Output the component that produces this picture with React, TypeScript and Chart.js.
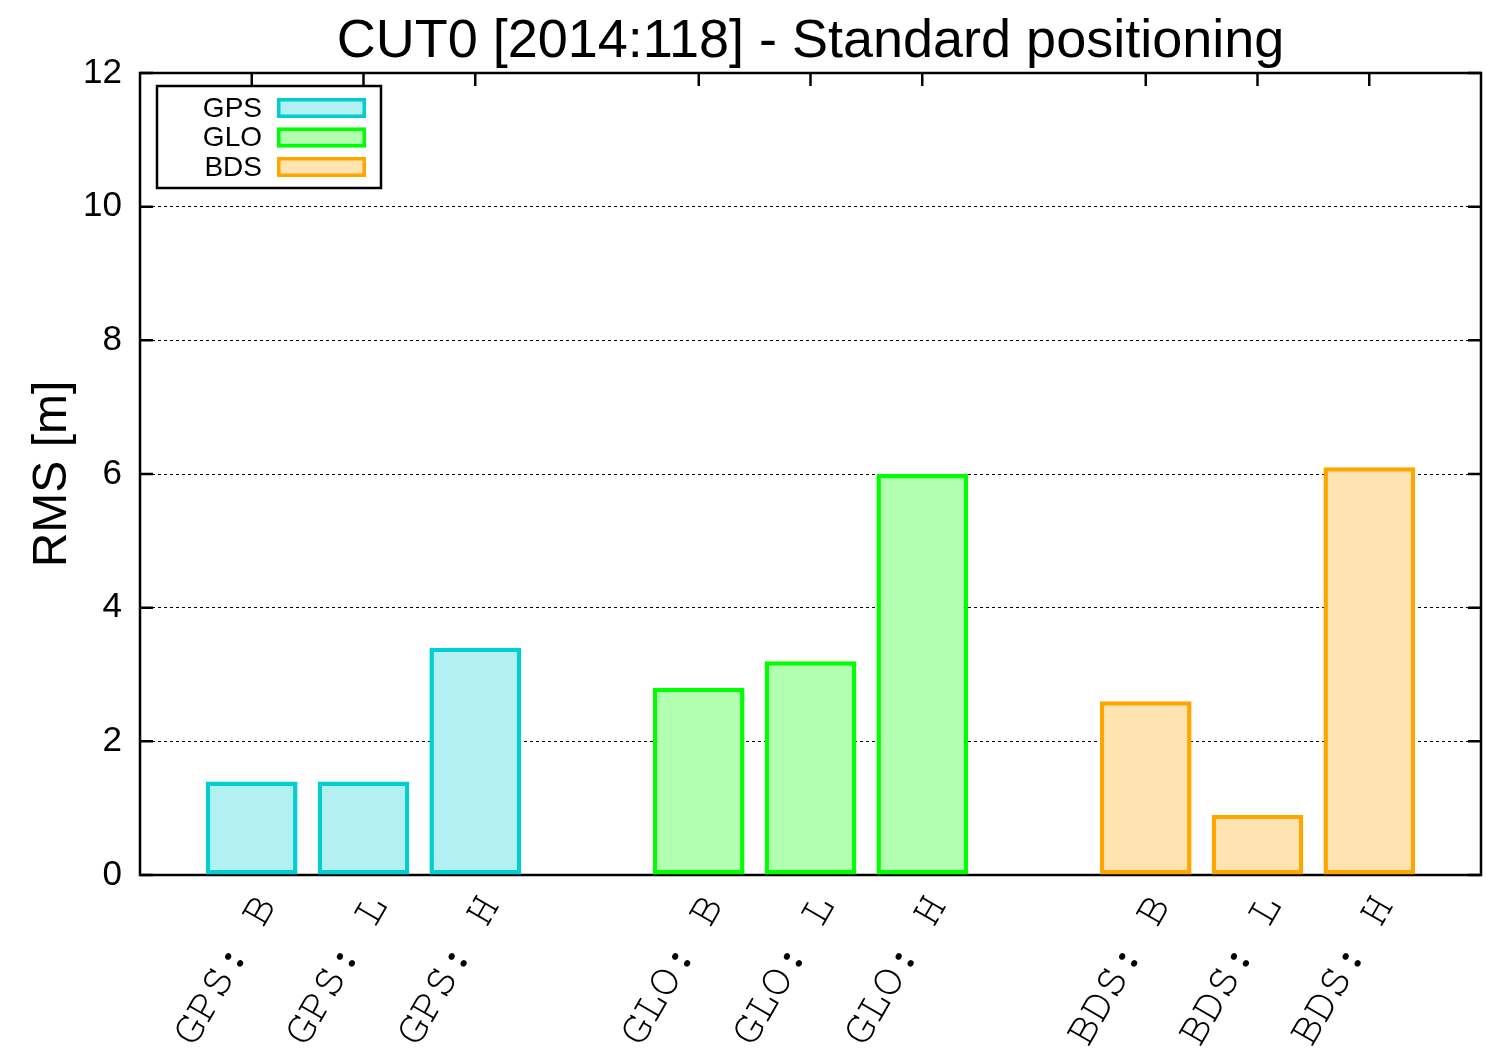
import { useEffect, useRef } from 'react';
import { Chart, registerables } from 'chart.js';

Chart.register(...registerables);

const TITLE = 'CUT0 [2014:118] - Standard positioning';
const Y_TITLE = 'RMS [m]';

// category slots (empty strings are the gaps / plot margins)
const CATEGORIES = ['', 'GPS: B', 'GPS: L', 'GPS: H', '', 'GLO: B', 'GLO: L', 'GLO: H', '', 'BDS: B', 'BDS: L', 'BDS: H', ''];

const SYSTEMS = ['GPS', 'GLO', 'BDS'];
const GPS_VALUES = [1.4, 1.4, 3.4];
const GLO_VALUES = [2.8, 3.2, 6.0];
const BDS_VALUES = [2.6, 0.9, 6.1];

const Y_MIN = 0;
const Y_MAX = 12;
const Y_STEP = 2;

const BORDER_COLORS = ['#00CED1', '#00FF00', '#FFA500'];
const FILL_COLORS = ['#B2F0F1', '#B2FFB2', '#FFE4B2'];

const SANS = '"Liberation Sans", Arial, sans-serif';
const MONO = '"Nimbus Mono PS", "Nimbus Mono L", FreeMono, "Courier New", Courier, "Liberation Mono", monospace';

function placeValues(system: string, values: number[]): (number | null)[] {
  let k = 0;
  return CATEGORIES.map((c) => (c.startsWith(system + ':') ? values[k++] : null));
}

const framePlugin = {
  id: 'gnuplotFrame',
  beforeDatasetsDraw(chart: any) {
    const { ctx, chartArea } = chart;
    const { left, right, top, bottom } = chartArea;
    const x = chart.scales.x;
    const y = chart.scales.y;
    const tick = 13;
    ctx.save();
    ctx.strokeStyle = '#000';
    ctx.lineWidth = 2.5;
    ctx.beginPath();
    y.ticks.forEach((t: any) => {
      const py = y.getPixelForValue(t.value);
      ctx.moveTo(left, py);
      ctx.lineTo(left + tick, py);
      ctx.moveTo(right, py);
      ctx.lineTo(right - tick, py);
    });
    CATEGORIES.forEach((c, i) => {
      if (!c) return;
      const px = x.getPixelForValue(i);
      ctx.moveTo(px, top);
      ctx.lineTo(px, top + tick);
      ctx.moveTo(px, bottom);
      ctx.lineTo(px, bottom - tick);
    });
    ctx.stroke();
    ctx.strokeRect(left, top, right - left, bottom - top);
    ctx.restore();
  },
};

const titlePlugin = {
  id: 'gnuplotTitle',
  afterDraw(chart: any) {
    const { ctx, chartArea } = chart;
    ctx.save();
    ctx.fillStyle = '#000';
    ctx.font = `54px ${SANS}`;
    ctx.textAlign = 'center';
    ctx.textBaseline = 'alphabetic';
    ctx.fillText(TITLE, (chartArea.left + chartArea.right) / 2, chartArea.top - 16);
    ctx.restore();
  },
};

const legendPlugin = {
  id: 'gnuplotLegend',
  afterDraw(chart: any) {
    const { ctx, chartArea } = chart;
    const bx = chartArea.left + 17;
    const by = chartArea.top + 13;
    const bw = 224;
    const bh = 102;
    ctx.save();
    ctx.fillStyle = '#fff';
    ctx.fillRect(bx, by, bw, bh);
    ctx.strokeStyle = '#000';
    ctx.lineWidth = 2.5;
    ctx.strokeRect(bx, by, bw, bh);
    ctx.font = `28px ${SANS}`;
    ctx.textAlign = 'right';
    ctx.textBaseline = 'middle';
    chart.data.datasets.forEach((ds: any, i: number) => {
      const cy = by + 22 + i * 29.5;
      ctx.fillStyle = '#000';
      ctx.fillText(ds.label, bx + 105, cy + 1);
      ctx.fillStyle = ds.backgroundColor;
      ctx.fillRect(bx + 120, cy - 10, 89, 20);
      ctx.strokeStyle = ds.borderColor;
      ctx.lineWidth = 3.5;
      ctx.strokeRect(bx + 121.75, cy - 8.25, 85.5, 16.5);
    });
    ctx.restore();
  },
};

export default function App() {
  const canvasRef = useRef<HTMLCanvasElement | null>(null);

  useEffect(() => {
    const canvas = canvasRef.current;
    if (!canvas) return;
    const seriesValues = [GPS_VALUES, GLO_VALUES, BDS_VALUES];
    const chart = new Chart(canvas, {
      type: 'bar',
      data: {
        labels: CATEGORIES,
        datasets: SYSTEMS.map((s, i) => ({
          label: s,
          data: placeValues(s, seriesValues[i]),
          backgroundColor: FILL_COLORS[i],
          borderColor: BORDER_COLORS[i],
          borderWidth: 4.5,
          borderSkipped: false,
          categoryPercentage: 0.82,
          barPercentage: 1,
          skipNull: true,
        })),
      },
      options: {
        responsive: false,
        devicePixelRatio: 1,
        animation: false,
        layout: { padding: { top: 73, right: 19, left: 0, bottom: 0 } },
        plugins: {
          legend: { display: false },
          title: { display: false },
          tooltip: { enabled: false },
        },
        scales: {
          x: {
            type: 'category',
            offset: false,
            grid: { display: false, drawTicks: false },
            border: { display: false },
            ticks: {
              autoSkip: false,
              maxRotation: 60,
              minRotation: 60,
              color: '#000',
              font: { family: MONO, size: 46 },
              padding: 9,
              labelOffset: 13,
            },
            afterFit(scale: any) {
              scale.height = 175;
              scale.paddingLeft = 0;
              scale.paddingRight = 0;
            },
          },
          y: {
            min: Y_MIN,
            max: Y_MAX,
            grid: {
              drawTicks: false,
              lineWidth: 1,
              color: (c: any) =>
                c.tick && (c.tick.value === Y_MIN || c.tick.value === Y_MAX) ? 'rgba(0,0,0,0)' : '#000',
            },
            border: { display: false, dash: [3, 3] },
            ticks: {
              stepSize: Y_STEP,
              color: '#000',
              font: { family: SANS, size: 35 },
              padding: 18,
            },
            title: {
              display: true,
              text: Y_TITLE,
              color: '#000',
              font: { family: SANS, size: 48 },
              padding: { top: 24, bottom: 0 },
            },
            afterFit(scale: any) {
              scale.width = 140;
              scale.paddingTop = 0;
              scale.paddingBottom = 0;
            },
          },
        },
      },
      plugins: [framePlugin, titlePlugin, legendPlugin],
    } as any);
    return () => chart.destroy();
  }, []);

  return (
    <div style={{ position: 'absolute', left: 0, top: 0, width: 1500, height: 1050, background: '#fff' }}>
      <canvas ref={canvasRef} width={1500} height={1050} />
    </div>
  );
}
